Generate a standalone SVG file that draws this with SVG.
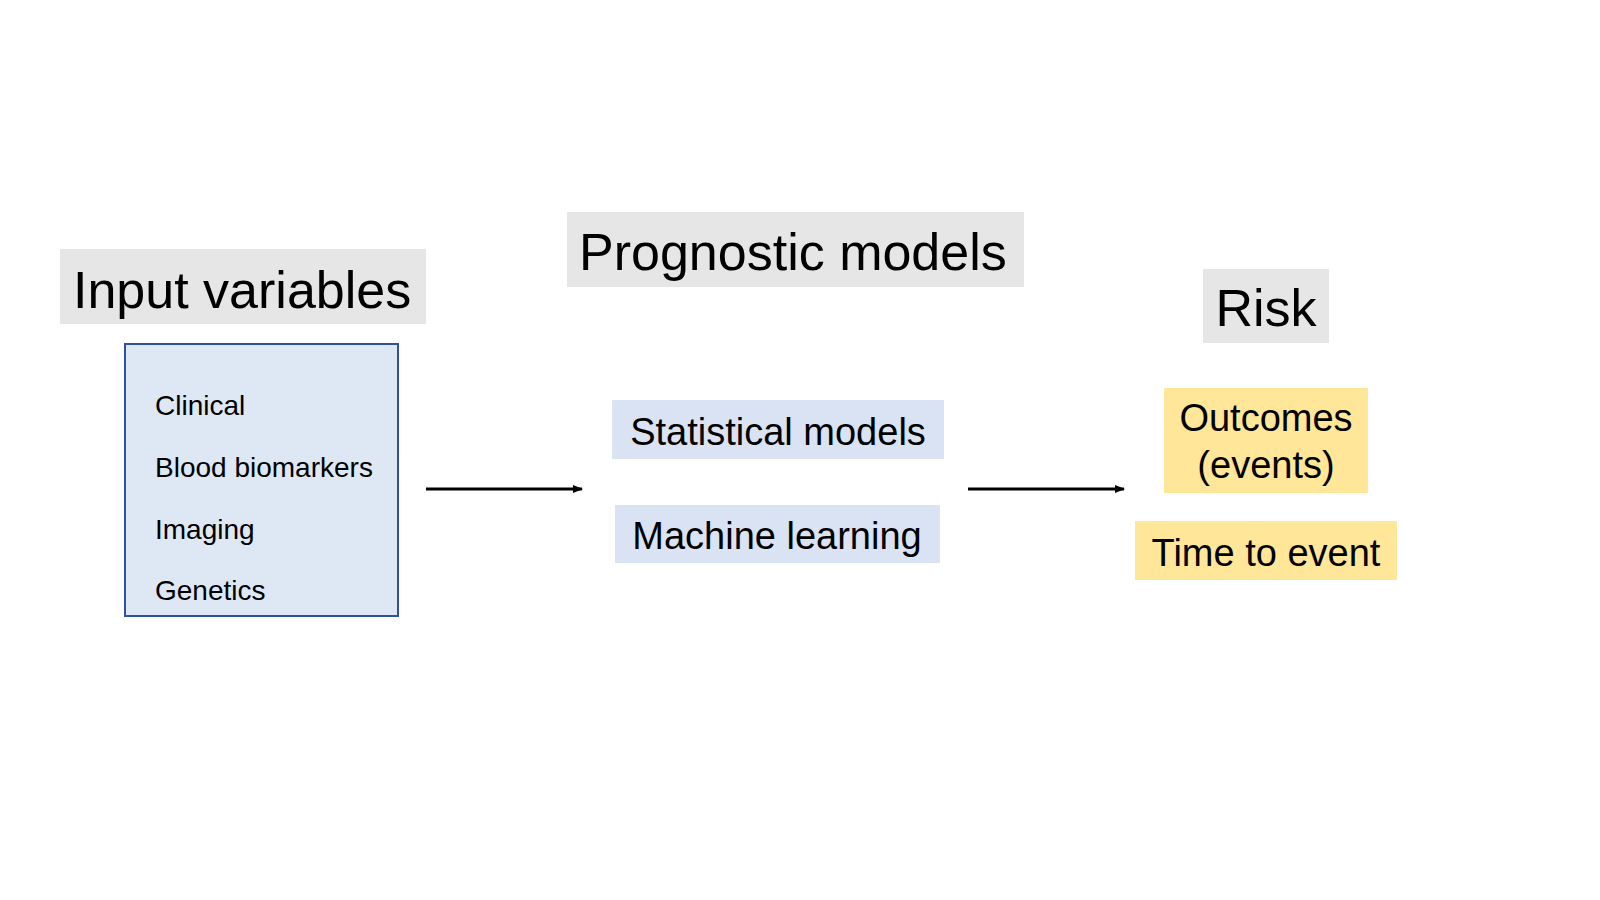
<svg xmlns="http://www.w3.org/2000/svg" width="1600" height="900" viewBox="0 0 1600 900">
<style>
text{font-family:"Liberation Sans",Arial,sans-serif;fill:#000}
.hd{fill:#e7e6e6}
.big{font-size:52px}
.mid{font-size:38px}
.sm{font-size:28px}
.m{fill:#dae3f3}
.y{fill:#ffe699}
.c{stroke:#000;stroke-width:3;fill:none;marker-end:url(#ah)}
</style>
<defs><marker id="ah" markerWidth="10" markerHeight="8" refX="9" refY="4" orient="auto" markerUnits="userSpaceOnUse"><path d="M0,0L10,4L0,8z" fill="#000"/></marker></defs>
<rect width="1600" height="900" fill="#fff"/>
<g id="input-title"><rect class="hd" x="60" y="249" width="366" height="75"/><text class="big" x="73" y="308">Input variables</text></g>
<g id="inputs"><rect x="125" y="344" width="273" height="272" fill="#dee8f4" stroke="#2f52a0" stroke-width="2"/>
<text class="sm" x="155" y="415">Clinical</text><text class="sm" x="155" y="477">Blood biomarkers</text><text class="sm" x="155" y="539">Imaging</text><text class="sm" x="155" y="600">Genetics</text></g>
<g id="models-title"><rect class="hd" x="567" y="212" width="457" height="75"/><text class="big" x="579" y="270">Prognostic models</text></g>
<g id="stat"><rect class="m" x="612" y="400" width="332" height="59"/><text class="mid" x="778" y="445" text-anchor="middle">Statistical models</text></g>
<g id="ml"><rect class="m" x="615" y="505" width="325" height="58"/><text class="mid" x="777" y="549" text-anchor="middle">Machine learning</text></g>
<g id="risk-title"><rect class="hd" x="1203" y="269" width="126" height="74"/><text class="big" x="1266" y="326" text-anchor="middle">Risk</text></g>
<g id="outcomes"><rect class="y" x="1164" y="388" width="204" height="105"/><text class="mid" x="1266" y="431" text-anchor="middle">Outcomes</text><text class="mid" x="1266" y="478" text-anchor="middle">(events)</text></g>
<g id="tte"><rect class="y" x="1135" y="521" width="262" height="59"/><text class="mid" x="1266" y="566" text-anchor="middle">Time to event</text></g>
<g id="connectors"><line class="c" x1="426" y1="489" x2="582" y2="489"/><line class="c" x1="968" y1="489" x2="1124" y2="489"/></g>
</svg>
